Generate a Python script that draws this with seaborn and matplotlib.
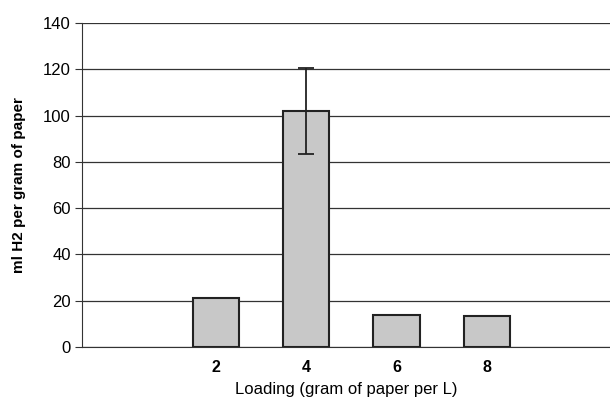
import numpy as np
import pandas as pd
import seaborn as sns
from matplotlib import pyplot as plt

# loading (g paper per L) vs hydrogen yield
loadings = ["2", "4", "6", "8"]
h2_yield = [21.0, 102.0, 14.0, 13.3]
h2_err = [np.nan, 18.7, np.nan, np.nan]

# blank slots at both ends, like the original spreadsheet chart
order = [" ", "2", "4", "6", "8", "  "]

df = pd.DataFrame({"loading": loadings, "h2": h2_yield})

sns.set_style("white")
plt.rcParams["font.family"] = ["Liberation Sans", "DejaVu Sans"]
plt.rcParams["text.color"] = "black"
plt.rcParams["axes.labelcolor"] = "black"
plt.rcParams["xtick.color"] = "black"
plt.rcParams["ytick.color"] = "black"

fig = plt.figure(figsize=(6.1, 4.03), dpi=100)
ax = fig.add_axes([0.134, 0.139, 0.866, 0.804])

sns.barplot(data=df, x="loading", y="h2", order=order, color="#c8c8c8",
            width=0.51, edgecolor="#222222", linewidth=1.5, errorbar=None,
            saturation=1, ax=ax, zorder=3)

# error bars on the bar centres
centres = [p.get_x() + p.get_width() / 2 for p in ax.patches if p.get_height() > 0]
heights = [p.get_height() for p in ax.patches if p.get_height() > 0]
ax.errorbar(centres, heights, yerr=h2_err, fmt="none", ecolor="#222222",
            elinewidth=1.3, capsize=6, capthick=1.3, zorder=4)

ax.set_ylim(0, 140)
ax.set_yticks(np.arange(0, 141, 20))
ax.set_xlim(-0.48, 5.36)
ax.yaxis.grid(True, color="#333333", linewidth=0.9)
ax.set_axisbelow(True)

for s in ["top", "right"]:
    ax.spines[s].set_visible(False)
ax.spines["left"].set_color("#333333")
ax.spines["bottom"].set_color("#333333")

ax.tick_params(axis="y", left=True, length=5, color="#333333", labelsize=12, pad=3)
ax.tick_params(axis="x", bottom=False, labelsize=11.5, pad=6)
for t in ax.get_xticklabels():
    t.set_fontweight("bold")

ax.set_xlabel("Loading (gram of paper per L)", fontsize=12, labelpad=5)
ax.set_ylabel("ml H2 per gram of paper", fontsize=11, fontweight="bold", labelpad=12)

fig.savefig("out.png", dpi=100)
